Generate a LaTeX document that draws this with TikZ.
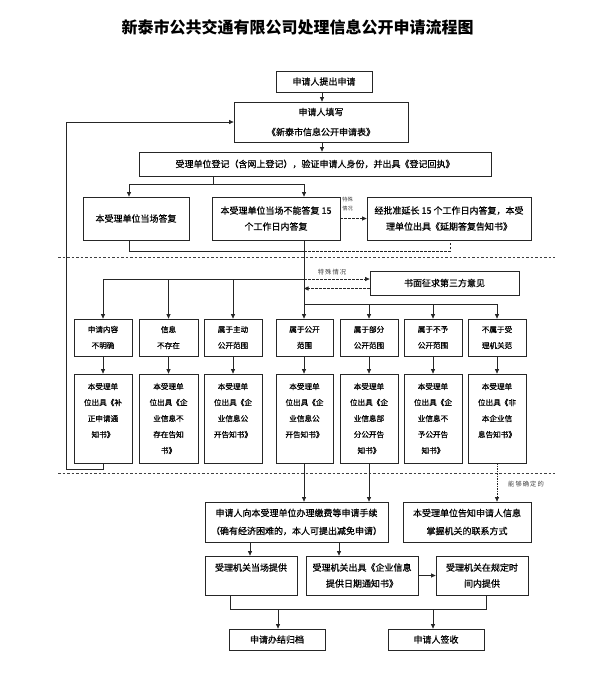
\documentclass[tikz,border=0pt]{standalone}
\usepackage{fontspec}
\setmainfont{Noto Sans CJK SC}
\newfontfamily\boxfont[FakeBold=0.6]{Noto Sans CJK SC}
\usetikzlibrary{arrows.meta}
\tikzset{
 bx/.style={draw=black!85, line width=0.75pt, inner sep=0pt, align=center, font=\boxfont\fontsize{9}{16}\selectfont},
 sbx/.style={bx, font=\boxfont\fontsize{7.6}{16}\selectfont},
 ln/.style={draw=black!85, line width=0.75pt},
 arr/.style={ln, -{Triangle[length=4.5pt,width=4pt]}},
 dsh/.style={dash pattern=on 2.5pt off 1.5pt},
 dtt/.style={dash pattern=on 1.5pt off 1pt},
 sep/.style={draw=black!75, line width=0.6pt, dash pattern=on 2.5pt off 2pt},
 lbl/.style={font=\fontsize{6.3}{7}\selectfont, text=black!75, inner sep=0pt, align=center},
}
\begin{document}
\begin{tikzpicture}[x=1pt,y=-1pt]
\useasboundingbox (0,0) rectangle (595,685);
\node[font=\fontsize{16}{16}\selectfont\bfseries] (title) at (297.5,27.5) {新泰市公共交通有限公司处理信息公开申请流程图};

% boxes
\node[bx, minimum width=96pt, minimum height=21pt] (b1) at (324,81.5) {申请人提出申请};
\node[bx, minimum width=174pt, minimum height=40pt] (b2) at (321,122) {申请人填写\\[4pt]《新泰市信息公开申请表》};
\node[bx, minimum width=352pt, minimum height=24pt] (b3) at (315,164) {受理单位登记（含网上登记），验证申请人身份，并出具《登记回执》};
\node[bx, minimum width=106pt, minimum height=43pt] (b4) at (136,218.5) {本受理单位当场答复};
\node[bx, minimum width=128pt, minimum height=43pt] (b5) at (276,218.5) {本受理单位当场不能答复 15\\个工作日内答复};
\node[bx, minimum width=164pt, minimum height=43pt] (b6) at (449,218.5) {经批准延长 15 个工作日内答复，本受\\理单位出具《延期答复告知书》};
\node[bx, minimum width=149pt, minimum height=24pt] (b7) at (444.5,283) {书面征求第三方意见};

% row 1
\node[sbx, minimum width=58pt, minimum height=37pt] (r1) at (103,337.5) {申请内容\\不明确};
\node[sbx, minimum width=59pt, minimum height=37pt] (r2) at (168.5,337.5) {信息\\不存在};
\node[sbx, minimum width=58pt, minimum height=37pt] (r3) at (233,337.5) {属于主动\\公开范围};
\node[sbx, minimum width=57pt, minimum height=37pt] (r4) at (304.5,337.5) {属于公开\\范围};
\node[sbx, minimum width=58pt, minimum height=37pt] (r5) at (369,337.5) {属于部分\\公开范围};
\node[sbx, minimum width=58pt, minimum height=37pt] (r6) at (433,337.5) {属于不予\\公开范围};
\node[sbx, minimum width=58pt, minimum height=37pt] (r7) at (497,337.5) {不属于受\\理机关范};

% row 2
\node[sbx, minimum width=58pt, minimum height=89pt] (s1) at (103,418.5) {本受理单\\位出具《补\\正申请通\\知书》\\\phantom{知}};
\node[sbx, minimum width=59pt, minimum height=89pt] (s2) at (168.5,418.5) {本受理单\\位出具《企\\业信息不\\存在告知\\书》};
\node[sbx, minimum width=58pt, minimum height=89pt] (s3) at (233,418.5) {本受理单\\位出具《企\\业信息公\\开告知书》\\\phantom{知}};
\node[sbx, minimum width=57pt, minimum height=89pt] (s4) at (304.5,418.5) {本受理单\\位出具《企\\业信息公\\开告知书》\\\phantom{知}};
\node[sbx, minimum width=58pt, minimum height=89pt] (s5) at (369,418.5) {本受理单\\位出具《企\\业信息部\\分公开告\\知书》};
\node[sbx, minimum width=58pt, minimum height=89pt] (s6) at (433,418.5) {本受理单\\位出具《企\\业信息不\\予公开告\\知书》};
\node[sbx, minimum width=58pt, minimum height=89pt] (s7) at (497,418.5) {本受理单\\位出具《非\\本企业信\\息告知书》\\\phantom{知}};

% lower boxes
\node[bx, minimum width=183pt, minimum height=40pt] (b8) at (296.5,522) {申请人向本受理单位办理缴费等申请手续\\[2pt]（确有经济困难的，本人可提出减免申请）};
\node[bx, minimum width=128pt, minimum height=40pt] (b9) at (467,522) {本受理单位告知申请人信息\\[2pt]掌握机关的联系方式};
\node[bx, minimum width=92pt, minimum height=39pt] (b10) at (251,575.5) {受理机关当场提供\\\phantom{受}};
\node[bx, minimum width=112pt, minimum height=39pt] (b11) at (362,575.5) {受理机关出具《企业信息\\提供日期通知书》};
\node[bx, minimum width=92pt, minimum height=39pt] (b12) at (482,575.5) {受理机关在规定时\\间内提供};
\node[bx, minimum width=96pt, minimum height=21pt] (b13) at (277,639.5) {申请办结归档};
\node[bx, minimum width=96pt, minimum height=21pt] (b14) at (436,639.5) {申请人签收};

% labels
\node[lbl, font=\fontsize{5.2}{9}\selectfont] (l1) at (347.5,204.5) {特殊\\情况};
\node[lbl] (l2) at (332,272.5) {特\,殊\,情\,况};
\node[lbl] (l3) at (526,484) {能\,够\,确\,定\,的};

% helper coordinates
\coordinate (xA) at (322,0);
\coordinate (xS) at (213,0);
\coordinate (xL) at (129,0);
\coordinate (x1) at (103,0);
\coordinate (x2) at (168.5,0);
\coordinate (x3) at (233,0);
\coordinate (x4) at (304,0);
\coordinate (x5) at (369,0);
\coordinate (x6) at (433,0);
\coordinate (x7) at (497,0);
\coordinate (xD) at (450,0);
\coordinate (xF) at (66,0);
\coordinate (x10) at (250,0);
\coordinate (x11) at (339,0);
\coordinate (xa) at (230,0);
\coordinate (xb) at (486,0);
\coordinate (x13) at (278,0);
\coordinate (x14) at (433,0);
\coordinate (yS) at (0,184);
\coordinate (yJ) at (0,251);
\coordinate (yL) at (0,279);
\coordinate (yB) at (0,288.5);
\coordinate (yR) at (0,304);
\coordinate (yF) at (0,469);
\coordinate (yE) at (0,609);

% separators
\draw[sep] (58,257) -- (555,257);
\draw[sep] (58,473) -- (555,473);

% connectors
\draw[arr] (b1.south -| xA) -- (b2.north -| xA);
\draw[arr] (b2.south -| xA) -- (b3.north -| xA);
\draw[ln] (b3.south -| xS) -- (xS |- yS);
\draw[arr] (xS |- yS) -| (b4.north -| xL);
\draw[arr] (xS |- yS) -| (b5.north -| x4);
\draw[arr, dsh] (b5.east) -- (b6.west);
\draw[ln] (b4.south -| xL) |- (x4 |- yJ);
\draw[ln, dsh] (x4 |- yJ) -| (b6.south -| xD);
\draw[ln] (b5.south -| x4) -- (x4 |- yR);
\draw[arr] (x4 |- yL) -| (r1.north -| x1);
\draw[arr] (x2 |- yL) -- (r2.north -| x2);
\draw[arr] (x3 |- yL) -- (r3.north -| x3);
\draw[arr] (x4 |- yR) -- (r4.north -| x4);
\draw[arr] (x4 |- yR) -| (r7.north -| x7);
\draw[arr] (x5 |- yR) -- (r5.north -| x5);
\draw[arr] (x6 |- yR) -- (r6.north -| x6);
\draw[arr, dsh] (x4 |- yL) -- (b7.west |- yL);
\draw[arr, dsh] (b7.west |- yB) -- (x4 |- yB);
\draw[arr] (r1.south -| x1) -- (s1.north -| x1);
\draw[arr] (r2.south -| x2) -- (s2.north -| x2);
\draw[arr] (r3.south -| x3) -- (s3.north -| x3);
\draw[arr] (r4.south -| x4) -- (s4.north -| x4);
\draw[arr] (r5.south -| x5) -- (s5.north -| x5);
\draw[arr] (r6.south -| x6) -- (s6.north -| x6);
\draw[arr] (r7.south -| x7) -- (s7.north -| x7);
\draw[arr] (s1.south -| x1) |- (xF |- yF) |- (b2.west);
\draw[arr] (s4.south -| x4) -- (b8.north -| x4);
\draw[arr] (s5.south -| x5) -- (b8.north -| x5);
\draw[arr, dtt] (s7.south -| x7) -- (b9.north -| x7);
\draw[arr] (b8.south -| x10) -- (b10.north -| x10);
\draw[arr] (b8.south -| x11) -- (b11.north -| x11);
\draw[arr] (b11.east) -- (b12.west);
\draw[ln] (b10.south -| xa) |- (xb |- yE) -- (b12.south -| xb);
\draw[arr] (x13 |- yE) -- (b13.north -| x13);
\draw[arr] (x14 |- yE) -- (b14.north -| x14);
\end{tikzpicture}
\end{document}
